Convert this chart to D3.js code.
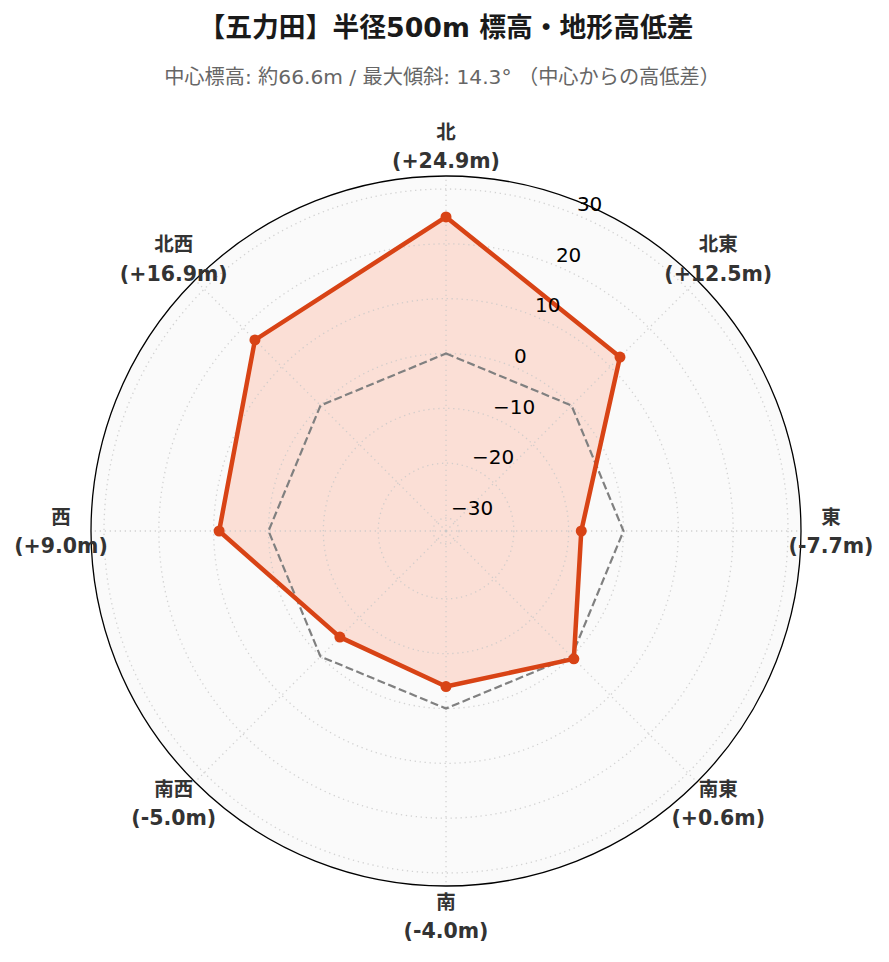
<!DOCTYPE html>
<html>
<head>
<meta charset="utf-8">
<script src="https://cdn.jsdelivr.net/npm/d3@7"></script>
<style>
  html, body { margin: 0; padding: 0; background: #ffffff; }
  svg { display: block; }
</style>
</head>
<body>
<svg id="chart" width="889" height="962"></svg>
<script>
// ---- data ----
const directions = ["北", "北東", "東", "南東", "南", "南西", "西", "北西"];
const diffs = [24.9, 12.5, -7.7, 0.6, -4.0, -5.0, 9.0, 16.9];
const zeroRef = [0, 0, 0, 0, 0, 0, 0, 0];
const rTicks = [-30, -20, -10, 0, 10, 20, 30];
const titleText = "【五力田】半径500m 標高・地形高低差";
const subtitleText = "中心標高: 約66.6m / 最大傾斜: 14.3° （中心からの高低差）";

// ---- layout ----
const cx = 446, cy = 531, R = 355;
const rMaxAbs = d3.max(diffs, d => Math.abs(d)) * 1.3;
const lineColor = "#D84315";
const fillColor = "#FF5722";
const mixFont = "'DejaVu Sans', 'Noto Sans CJK JP', sans-serif";

const svg = d3.select("#chart");

const rScale = d3.scaleLinear().domain([-rMaxAbs, rMaxAbs]).range([0, R]);
const aScale = d3.scaleLinear().domain([0, directions.length]).range([0, 2 * Math.PI]);

const px = (i, v) => cx + rScale(v) * Math.sin(aScale(i));
const py = (i, v) => cy - rScale(v) * Math.cos(aScale(i));

// title
svg.append("text").attr("x", 446).attr("y", 27)
  .attr("text-anchor", "middle").attr("dominant-baseline", "central")
  .attr("font-family", mixFont).attr("font-weight", "bold").attr("font-size", 26.8)
  .attr("fill", "#1a1a1a").text(titleText);
svg.append("text").attr("x", 442).attr("y", 77)
  .attr("text-anchor", "middle").attr("dominant-baseline", "central")
  .attr("font-family", mixFont).attr("font-size", 20.2)
  .attr("fill", "#666666").text(subtitleText);

const g = svg.append("g");

// background
g.append("circle").attr("cx", cx).attr("cy", cy).attr("r", R).attr("fill", "#fafafa");

const lineGen = d3.line().x(d => px(d[0], d[1])).y(d => py(d[0], d[1])).curve(d3.curveLinearClosed);
const pts = diffs.map((v, i) => [i, v]);

// data area fill (below grid)
g.append("path").datum(pts).attr("d", lineGen)
  .attr("fill", fillColor).attr("fill-opacity", 0.17).attr("stroke", "none");

// radial grid circles
g.selectAll(".rgrid").data(rTicks).join("circle")
  .attr("cx", cx).attr("cy", cy).attr("r", d => rScale(d))
  .attr("fill", "none").attr("stroke", "#c8c8c8").attr("stroke-opacity", 0.8).attr("stroke-width", 1.3)
  .attr("stroke-dasharray", "1.3,3.7");

// angular grid lines
g.selectAll(".agrid").data(d3.range(directions.length)).join("line")
  .attr("x1", cx).attr("y1", cy)
  .attr("x2", i => px(i, rMaxAbs)).attr("y2", i => py(i, rMaxAbs))
  .attr("stroke", "#c8c8c8").attr("stroke-opacity", 0.8).attr("stroke-width", 1.3)
  .attr("stroke-dasharray", "1.3,3.7");

// zero reference
g.append("path").datum(zeroRef.map((v, i) => [i, v]))
  .attr("d", lineGen).attr("fill", "none")
  .attr("stroke", "#808080").attr("stroke-width", 2.2).attr("stroke-dasharray", "8,3.5");

// data line and markers
g.append("path").datum(pts).attr("d", lineGen)
  .attr("fill", "none").attr("stroke", lineColor).attr("stroke-width", 4.5)
  .attr("stroke-linejoin", "round");
g.selectAll(".pt").data(pts).join("circle")
  .attr("cx", d => px(d[0], d[1])).attr("cy", d => py(d[0], d[1]))
  .attr("r", 5.5).attr("fill", lineColor);

// outer spine
g.append("circle").attr("cx", cx).attr("cy", cy).attr("r", R)
  .attr("fill", "none").attr("stroke", "#000").attr("stroke-width", 1.3);

// radial tick labels along 22.5°
const labAng = Math.PI / 8;
g.selectAll(".rlab").data(rTicks).join("text")
  .attr("x", d => cx + rScale(d) * Math.sin(labAng))
  .attr("y", d => cy - rScale(d) * Math.cos(labAng) - 11)
  .attr("text-anchor", "start").attr("dominant-baseline", "central")
  .attr("font-family", "'DejaVu Sans', sans-serif").attr("font-size", 20).attr("fill", "#000")
  .text(d => d < 0 ? "\u2212" + Math.abs(d) : String(d));

// direction labels
const labR = 385;
const fmt = v => (v >= 0 ? "+" : "-") + Math.abs(v).toFixed(1) + "m";
const lab = g.selectAll(".dlab").data(directions).join("g")
  .attr("transform", (d, i) => `translate(${cx + labR * Math.sin(aScale(i))},${cy - labR * Math.cos(aScale(i))})`);
lab.append("text").attr("y", -14).attr("text-anchor", "middle").attr("dominant-baseline", "central")
  .attr("font-family", mixFont).attr("font-weight", "bold").attr("font-size", 19.5).attr("fill", "#333")
  .text(d => d);
lab.append("text").attr("y", 15).attr("text-anchor", "middle").attr("dominant-baseline", "central")
  .attr("font-family", mixFont).attr("font-weight", "bold").attr("font-size", 20.5).attr("fill", "#333")
  .text((d, i) => "(" + fmt(diffs[i]) + ")");
</script>
</body>
</html>
